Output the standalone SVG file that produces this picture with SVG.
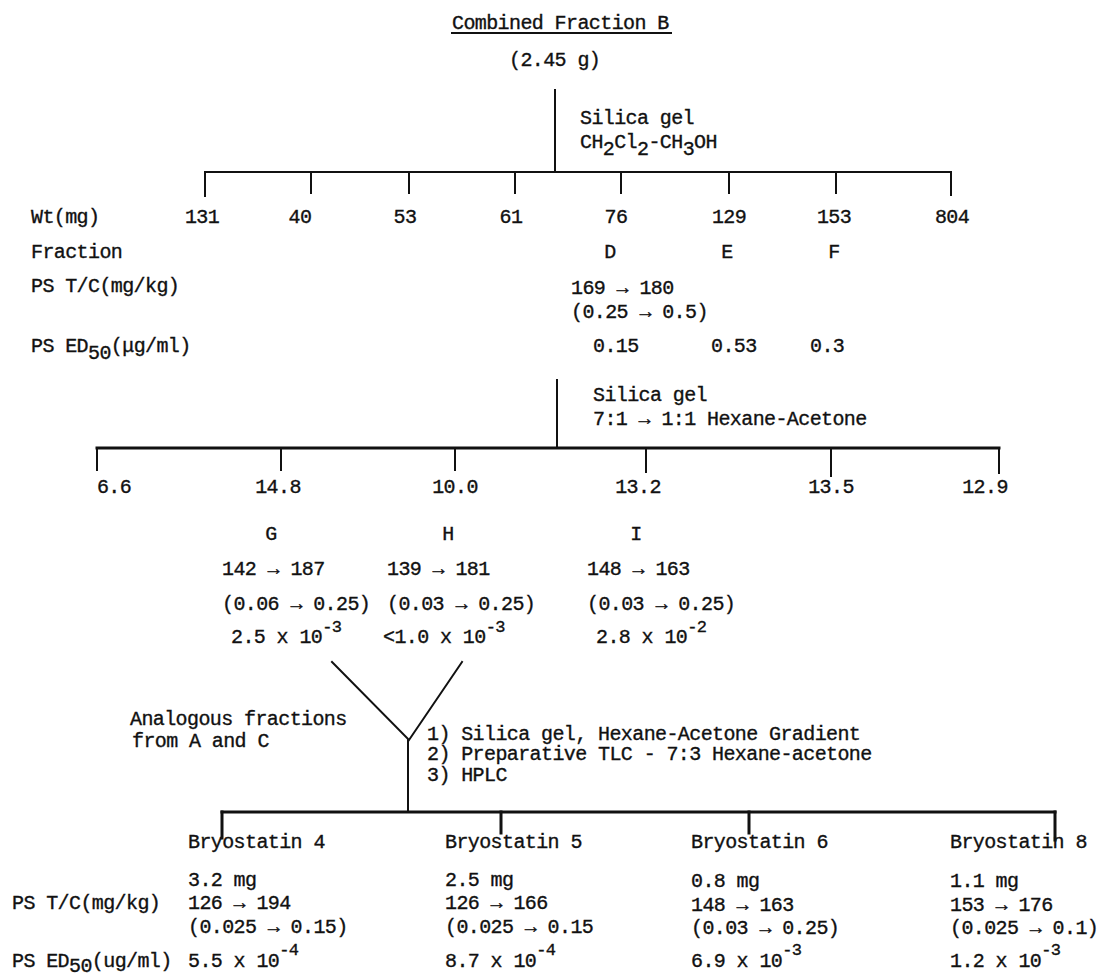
<svg xmlns="http://www.w3.org/2000/svg" width="1105" height="978" viewBox="0 0 1105 978">
<style>
text{font-family:"Liberation Mono","Courier New",monospace;font-size:20px;letter-spacing:-0.6px;fill:#111;stroke:#111;stroke-width:0.35}
.m{text-anchor:middle}
.sup{font-size:17px}
.ln{stroke:#111;stroke-width:2;fill:none;stroke-linecap:square}
.th{stroke-width:3}
</style>
<rect width="1105" height="978" fill="#fff"/>
<g id="connectors">
<path class="ln" d="M555 90V172"/>
<path class="ln" d="M205 172H951M205 172V196M311 172V193M409 172V193M515 172V193M621 172V193M729 172V193M836 172V193M951 172V195"/>
<path class="ln" d="M452 33H671" stroke-width="1.5"/>
<path class="ln" d="M557 380V448"/>
<path class="ln th" d="M97 448H999" stroke-width="2.5"/>
<path class="ln" d="M97 448V470M281 448V470M455 448V470M646 448V472M831 448V476M999 448V473"/>
<path class="ln" d="M332 662L409 740L462 662M408 740V812" stroke-width="2.5"/>
<path class="ln th" d="M222 812H1055"/>
<path class="ln th" d="M222 812V838M501 812V833M749 812V833M1055 812V840"/>
</g>
<g id="root">
<text x="452" y="29">Combined Fraction B</text>
<text x="509" y="66">(2.45 g)</text>
</g>
<g id="step1">
<text x="580" y="124">Silica gel</text>
<text x="580" y="148">CH<tspan dy="7">2</tspan><tspan dy="-7">Cl</tspan><tspan dy="7">2</tspan><tspan dy="-7">-CH</tspan><tspan dy="7">3</tspan><tspan dy="-7">OH</tspan></text>
</g>
<g id="labels1">
<text x="31" y="223">Wt(mg)</text>
<text x="31" y="258">Fraction</text>
<text x="31" y="292">PS T/C(mg/kg)</text>
<text x="31" y="352">PS ED<tspan dy="7">50</tspan><tspan dy="-7">(μg/ml)</tspan></text>
</g>
<g id="fractions1">
<text class="m" x="202" y="223">131</text>
<text class="m" x="300" y="223">40</text>
<text class="m" x="405" y="223">53</text>
<text class="m" x="511" y="223">61</text>
<text class="m" x="616" y="223">76</text>
<text class="m" x="729" y="223">129</text>
<text class="m" x="834" y="223">153</text>
<text class="m" x="952" y="223">804</text>
</g>
<g id="fracD">
<text class="m" x="610" y="258">D</text>
<text x="571" y="294">169 → 180</text>
<text x="571" y="318">(0.25 → 0.5)</text>
<text x="593" y="352">0.15</text>
</g>
<g id="fracE">
<text class="m" x="727" y="258">E</text>
<text x="711" y="352">0.53</text>
</g>
<g id="fracF">
<text class="m" x="834" y="258">F</text>
<text x="810" y="352">0.3</text>
</g>
<g id="step2">
<text x="593" y="401">Silica gel</text>
<text x="593" y="425">7:1 → 1:1  Hexane-Acetone</text>
</g>
<g id="fractions2">
<text class="m" x="114" y="493">6.6</text>
<text class="m" x="278" y="493">14.8</text>
<text class="m" x="455" y="493">10.0</text>
<text class="m" x="638" y="493">13.2</text>
<text class="m" x="831" y="493">13.5</text>
<text class="m" x="985" y="493">12.9</text>
</g>
<g id="fracG">
<text class="m" x="271" y="540">G</text>
<text x="222" y="575">142 → 187</text>
<text x="222" y="610">(0.06 → 0.25)</text>
<text x="231" y="643">2.5 x 10<tspan class="sup" dy="-11">-3</tspan></text>
</g>
<g id="fracH">
<text class="m" x="448" y="540">H</text>
<text x="387" y="575">139 → 181</text>
<text x="387" y="610">(0.03 → 0.25)</text>
<text x="383" y="643">&lt;1.0 x 10<tspan class="sup" dy="-11">-3</tspan></text>
</g>
<g id="fracI">
<text class="m" x="636" y="540">I</text>
<text x="587" y="575">148 → 163</text>
<text x="587" y="610">(0.03 → 0.25)</text>
<text x="596" y="643">2.8 x 10<tspan class="sup" dy="-11">-2</tspan></text>
</g>
<g id="analogous">
<text x="130" y="725">Analogous fractions</text>
<text x="132" y="747">from A and C</text>
</g>
<g id="step3">
<text x="427" y="740">1) Silica gel, Hexane-Acetone Gradient</text>
<text x="427" y="760">2) Preparative TLC - 7:3 Hexane-acetone</text>
<text x="427" y="781">3) HPLC</text>
</g>
<g id="labels2">
<text x="12" y="909">PS T/C(mg/kg)</text>
<text x="12" y="967">PS ED<tspan dy="5">50</tspan><tspan dy="-5">(ug/ml)</tspan></text>
</g>
<g id="bryostatin4">
<text x="188" y="848">Bryostatin 4</text>
<text x="188" y="886">3.2 mg</text>
<text x="188" y="909">126 → 194</text>
<text x="188" y="933">(0.025 → 0.15)</text>
<text x="188" y="967">5.5 x 10<tspan class="sup" dy="-12">-4</tspan></text>
</g>
<g id="bryostatin5">
<text x="445" y="848">Bryostatin 5</text>
<text x="445" y="886">2.5 mg</text>
<text x="445" y="909">126 → 166</text>
<text x="445" y="933">(0.025 → 0.15</text>
<text x="445" y="967">8.7 x 10<tspan class="sup" dy="-12">-4</tspan></text>
</g>
<g id="bryostatin6">
<text x="691" y="848">Bryostatin 6</text>
<text x="691" y="887">0.8 mg</text>
<text x="691" y="911">148 → 163</text>
<text x="691" y="934">(0.03 → 0.25)</text>
<text x="691" y="967">6.9 x 10<tspan class="sup" dy="-12">-3</tspan></text>
</g>
<g id="bryostatin8">
<text x="950" y="848">Bryostatin 8</text>
<text x="950" y="887">1.1 mg</text>
<text x="950" y="911">153 → 176</text>
<text x="950" y="934">(0.025 → 0.1)</text>
<text x="950" y="967">1.2 x 10<tspan class="sup" dy="-12">-3</tspan></text>
</g>
</svg>
